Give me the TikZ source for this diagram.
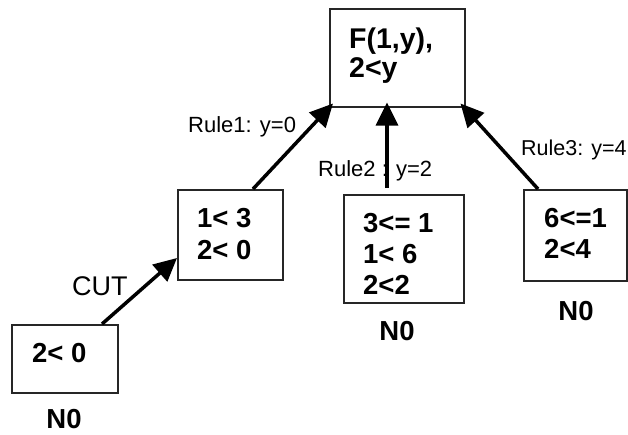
\documentclass[tikz,border=0pt]{standalone}
\usepackage{fontspec}
\setmainfont{Liberation Sans}
\usetikzlibrary{arrows.meta,calc}
\begin{document}
\begin{tikzpicture}[x=1pt,y=-1pt,
  box/.style={draw=black!85,line width=1.5pt,fill=white,inner sep=0pt,anchor=north west},
  cond/.style={anchor=base west,inner sep=0pt,font=\fontsize{27.5}{30}\selectfont\bfseries},
  tag/.style={anchor=base,inner sep=0pt,font=\fontsize{27.5}{30}\selectfont\bfseries},
  rule/.style={anchor=base west,inner sep=0pt,font=\fontsize{21.5}{25}\selectfont},
  arr/.style={line width=3.5pt,-{Triangle[length=23pt,width=22pt]}}]
\useasboundingbox (0,0) rectangle (628,434);

% goal node
\node[box,minimum width=135pt,minimum height=98pt] (T) at (329,8) {};
\node[cond,font=\fontsize{28.5}{30}\selectfont\bfseries] (t1) at (349,48) {F(1,y),};
\node[cond,font=\fontsize{28.5}{30}\selectfont\bfseries] (t2) at (349,77) {2<y};

% middle left node
\node[box,minimum width=105pt,minimum height=90pt] (B) at (177,189) {};
\node[cond] (b1) at (197,227) {1< 3};
\node[cond] (b2) at (197,259) {2< 0};

% middle node
\node[box,minimum width=120pt,minimum height=108pt] (C) at (343,194) {};
\node[cond] (c1) at (363,232) {3<= 1};
\node[cond] (c2) at (363,263) {1< 6};
\node[cond] (c3) at (363,294) {2<2};
\node[tag] (cn) at (397,340) {N0};

% right node
\node[box,minimum width=103pt,minimum height=91pt] (D) at (523,189) {};
\node[cond] (d1) at (544,227) {6<=1};
\node[cond] (d2) at (544,258) {2<4};
\node[tag] (dn) at (576,320) {N0};

% bottom left node
\node[box,minimum width=106pt,minimum height=68pt] (A) at (11,324) {};
\node[cond] (a1) at (32,362) {2< 0};
\node[tag] (an) at (64,428) {N0};

% edge labels
\node[rule,font=\fontsize{22}{25}\selectfont] (r1) at (188,132) {Rule1: y=0};
\node[rule,font=\fontsize{22}{25}\selectfont] (r2) at (318,176) {Rule2 : y=2};
\node[rule] (r3) at (521,155) {Rule3: y=4};
\node[rule,font=\fontsize{27}{30}\selectfont] (cut) at (72,295) {CUT};

% connectors
\draw[arr] ($(A.north west)+(91,0)$) -- ($(B.north west)+(0,69)$);
\draw[arr] ($(B.north west)+(76,0)$) -- ($(T.south west)+(4,-4)$);
\draw[arr] ($(C.north west)+(44,-6)$) -- ($(T.south west)+(58,-5)$);
\draw[arr] ($(D.north west)+(15,0)$) -- ($(T.south east)+(-5,-4)$);
\end{tikzpicture}
\end{document}
